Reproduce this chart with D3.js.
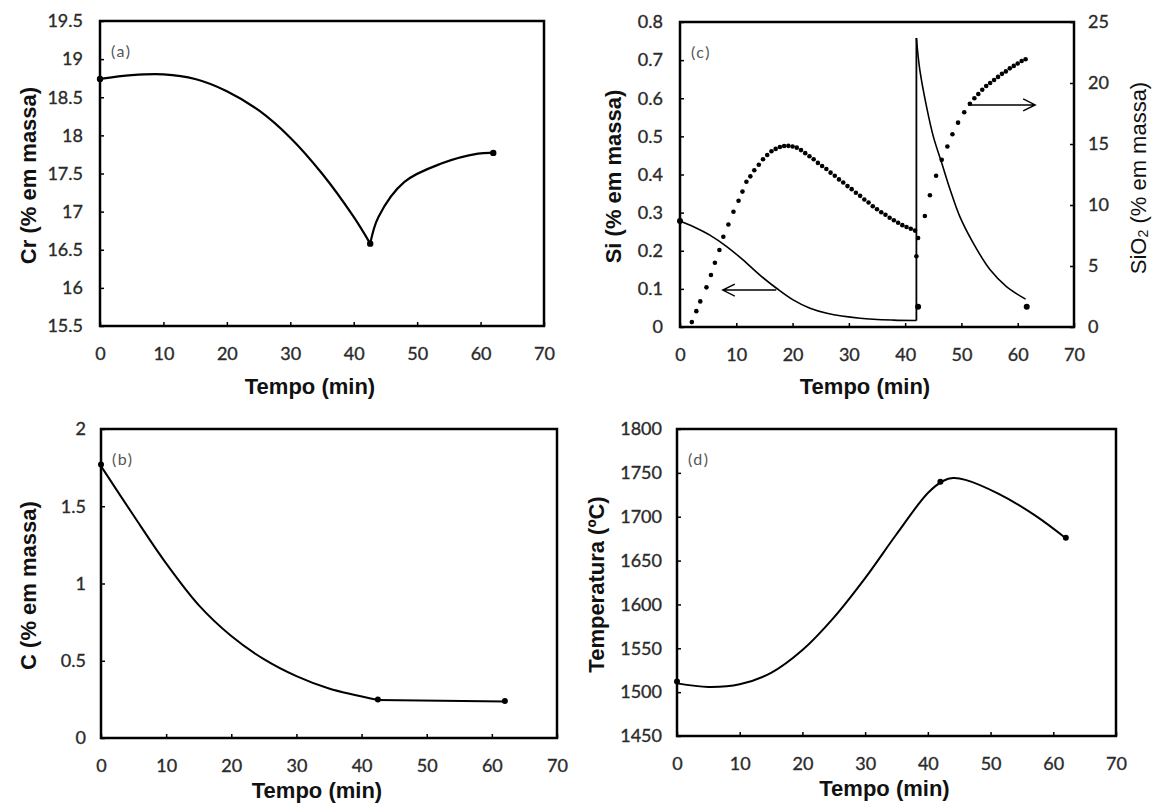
<!DOCTYPE html>
<html>
<head>
<meta charset="utf-8">
<script src="https://cdn.jsdelivr.net/npm/d3@7"></script>
<style>
    body { margin: 0; background: #fff; }
    .tick text { font-family: Lato, sans-serif; font-size: 18px; fill: #2b2b2b; stroke: #2b2b2b; stroke-width: 0.35; }
    .tick line { stroke: #000; stroke-width: 1.5; }
    .title { font-family: "Liberation Sans", Arial, sans-serif; font-weight: bold; font-size: 22px; fill: #111; }
    .tag { font-family: Lato, sans-serif; font-size: 16px; fill: #555; letter-spacing: 1.5px; }
</style>
</head>
<body>
<svg id="chart" width="1152" height="808"></svg>
<script>
// Shared x ticks (Tempo, min)
const xTicks = [0, 10, 20, 30, 40, 50, 60, 70];

// (a) Cr, % em massa
const crCurveT1 = [0, 5, 10, 15, 20, 25, 30, 35, 40, 42.6];
const crCurveV1 = [18.74, 18.79, 18.8, 18.74, 18.58, 18.33, 17.97, 17.5, 16.93, 16.58];
const crCurveT2 = [42.6, 43.9, 48, 53.8, 59.6, 61.9];
const crCurveV2 = [16.58, 16.93, 17.39, 17.63, 17.76, 17.77];
const crPointT = [0, 42.6, 62];
const crPointV = [18.74, 16.58, 17.77];
const crTicks = [15.5, 16, 16.5, 17, 17.5, 18, 18.5, 19, 19.5];

// (b) C, % em massa
const cCurveT = [0, 5, 10, 15, 20, 25, 30, 35, 42.5];
const cCurveV = [1.76, 1.44, 1.13, 0.86, 0.66, 0.51, 0.4, 0.32, 0.246];
const cTailT = [42.5, 62];
const cTailV = [0.246, 0.237];
const cPointT = [0, 42.5, 62];
const cPointV = [1.77, 0.25, 0.24];
const cTicks = [0, 0.5, 1, 1.5, 2];

// (c) Si (left axis) and SiO2 (right axis)
const siCurveT1 = [0, 2.4, 5.3, 8.3, 11.2, 14.2, 17.2, 20.1, 23.1, 26.1, 32, 37.9, 42];
const siCurveV1 = [0.278, 0.263, 0.241, 0.211, 0.176, 0.136, 0.101, 0.071, 0.049, 0.036, 0.023, 0.018, 0.017];
const siCurveT2 = [42, 42.6, 43.8, 45, 46.5, 48, 49.7, 52.1, 55.1, 58, 61.4];
const siCurveV2 = [0.758, 0.675, 0.578, 0.5, 0.43, 0.36, 0.29, 0.22, 0.15, 0.106, 0.073];
const siPointT = [0, 42.3, 61.6];
const siPointV = [0.278, 0.053, 0.053];
const sio2T = [2.1, 2.9, 3.6, 4.7, 5.5, 6.2, 7.0, 7.7, 8.6, 9.5, 10.4, 11.1, 11.8, 12.5, 13.2,
    14.0, 14.75, 15.5, 16.25, 17.0, 17.75, 18.5, 19.25, 20.0, 20.75, 21.5, 22.25, 23.0, 23.75,
    24.5, 25.25, 26.0, 26.75, 27.5, 28.25, 29.0, 29.75, 30.5, 31.25, 32.0, 32.75, 33.5, 34.25,
    35.0, 35.75, 36.5, 37.25, 38.0, 38.75, 39.5, 40.25, 41.0, 41.75, 42.3, 42.0,
    43.5, 44.4, 45.5, 46.5, 47.5, 48.4, 49.4, 50.5, 51.5, 52.3, 53.0, 53.7, 54.4, 55.1, 55.8,
    56.5, 57.2, 57.9, 58.6, 59.3, 60.0, 60.7, 61.4];
const sio2V = [0.4, 1.3, 2.1, 3.25, 4.26, 5.27, 6.31, 7.4, 8.4, 9.45, 10.35, 11.1, 11.9, 12.35, 12.85,
    13.3, 13.75, 14.1, 14.4, 14.6, 14.75, 14.83, 14.85, 14.8, 14.7, 14.5, 14.25, 14.0, 13.75,
    13.45, 13.2, 12.95, 12.65, 12.4, 12.1, 11.85, 11.55, 11.3, 11.0, 10.75, 10.45, 10.2, 9.9,
    9.65, 9.4, 9.2, 8.95, 8.75, 8.55, 8.35, 8.2, 8.05, 7.9, 7.3, 5.8,
    9.1, 10.8, 12.4, 13.7, 14.8, 15.8, 16.75, 17.6, 18.3, 18.75, 19.1, 19.45, 19.75, 20.0, 20.25,
    20.5, 20.75, 20.95, 21.2, 21.4, 21.6, 21.8, 21.95];
const siTicks = [0, 0.1, 0.2, 0.3, 0.4, 0.5, 0.6, 0.7, 0.8];
const sio2Ticks = [0, 5, 10, 15, 20, 25];
// arrows: [t start, t end, value]
const siArrow = [17.1, 7.6, 0.097];
const sio2Arrow = [51.2, 63.1, 18.2];

// (d) Temperatura, ºC
const tCurveT = [0, 5, 10, 15, 20, 25, 30, 35, 40, 42.5, 44, 46, 51.3, 57.2, 61.9];
const tCurveV = [1510, 1506, 1509, 1522, 1548, 1585, 1630, 1680, 1727, 1741, 1744, 1742, 1726, 1701, 1676];
const tPointT = [0, 42, 62];
const tPointV = [1512, 1740, 1676];
const tTicks = [1450, 1500, 1550, 1600, 1650, 1700, 1750, 1800];

const svg = d3.select("#chart");
const smooth = d3.curveCatmullRom.alpha(0.5);

function makePanel(p) {
    const x = d3.scaleLinear().domain([0, 70]).range([p.left, p.right]);
    const y = d3.scaleLinear().domain(p.yDomain).range([p.bottom, p.top]);
    const g = svg.append("g");

    g.append("g")
        .attr("transform", `translate(0,${p.bottom})`)
        .call(d3.axisBottom(x).tickValues(xTicks).tickSize(-4).tickPadding(21).tickFormat(d => d))
        .call(a => a.select(".domain").remove());

    g.append("g")
        .attr("transform", `translate(${p.left},0)`)
        .call(d3.axisLeft(y).tickValues(p.yTicks).tickSize(-4).tickPadding(p.yPad).tickFormat(d => d))
        .call(a => a.select(".domain").remove());

    // frame
    g.append("rect")
        .attr("x", p.left).attr("y", p.top)
        .attr("width", p.right - p.left).attr("height", p.bottom - p.top)
        .attr("fill", "none").attr("stroke", "#000").attr("stroke-width", 2.5);

    g.append("text").attr("class", "tag")
        .attr("x", p.left + 11).attr("y", p.top + 36).text(p.tag);

    g.append("text").attr("class", "title")
        .attr("x", (p.left + p.right) / 2 - 12).attr("y", p.bottom + p.xTitleDy)
        .attr("text-anchor", "middle").text("Tempo (min)");

    g.append("text").attr("class", "title")
        .attr("transform", `translate(${p.titleX},${(p.top + p.bottom) / 2 + 2}) rotate(-90)`)
        .attr("text-anchor", "middle").attr("dominant-baseline", "central")
        .text(p.yTitle);

    return { g, x, y };
}

function drawLine(g, x, y, ts, vs, curve, width) {
    g.append("path")
        .datum(d3.zip(ts, vs))
        .attr("fill", "none").attr("stroke", "#000")
        .attr("stroke-width", width).attr("stroke-linejoin", "round")
        .attr("d", d3.line().x(d => x(d[0])).y(d => y(d[1])).curve(curve));
}

function drawDots(g, x, y, ts, vs, r) {
    g.append("g").selectAll("circle")
        .data(d3.zip(ts, vs))
        .join("circle")
        .attr("cx", d => x(d[0])).attr("cy", d => y(d[1]))
        .attr("r", r).attr("fill", "#000");
}

function drawArrow(g, x, y, a) {
    const x0 = x(a[0]), x1 = x(a[1]), yy = y(a[2]);
    const dir = Math.sign(x1 - x0);
    g.append("path")
        .attr("d", `M${x0},${yy}L${x1},${yy}M${x1 - dir * 12},${yy - 6}L${x1},${yy}L${x1 - dir * 12},${yy + 6}`)
        .attr("fill", "none").attr("stroke", "#000").attr("stroke-width", 1.4);
}

// Panel (a)
const pa = makePanel({ left: 100, right: 544, top: 21, bottom: 326, yDomain: [15.5, 19.5], yTicks: crTicks,
    yPad: 17, tag: "(a)", yTitle: "Cr (% em massa)", titleX: 28, xTitleDy: 68 });
drawLine(pa.g, pa.x, pa.y, crCurveT1, crCurveV1, smooth, 2.2);
drawLine(pa.g, pa.x, pa.y, crCurveT2, crCurveV2, smooth, 2.2);
drawDots(pa.g, pa.x, pa.y, crPointT, crPointV, 3.2);

// Panel (b)
const pb = makePanel({ left: 101, right: 557, top: 429, bottom: 738, yDomain: [0, 2], yTicks: cTicks,
    yPad: 15, tag: "(b)", yTitle: "C (% em massa)", titleX: 28, xTitleDy: 60 });
drawLine(pb.g, pb.x, pb.y, cCurveT, cCurveV, smooth, 2);
drawLine(pb.g, pb.x, pb.y, cTailT, cTailV, d3.curveLinear, 2);
drawDots(pb.g, pb.x, pb.y, cPointT, cPointV, 3);

// Panel (c), left axis Si
const pc = makePanel({ left: 680, right: 1074, top: 22, bottom: 327, yDomain: [0, 0.8], yTicks: siTicks,
    yPad: 17, tag: "(c)", yTitle: "Si (% em massa)", titleX: 613, xTitleDy: 67 });
const y2 = d3.scaleLinear().domain([0, 25]).range([327, 22]);
pc.g.append("g")
    .attr("transform", "translate(1074,0)")
    .call(d3.axisRight(y2).tickValues(sio2Ticks).tickSize(-4).tickPadding(14))
    .call(a => a.select(".domain").remove());
const sio2Title = pc.g.append("text").attr("class", "title").style("font-weight", "normal")
    .attr("transform", "translate(1138,178) rotate(-90)")
    .attr("text-anchor", "middle").attr("dominant-baseline", "central");
sio2Title.append("tspan").text("SiO");
sio2Title.append("tspan").attr("font-size", 14).attr("dy", 5).text("2");
sio2Title.append("tspan").attr("dy", -5).text(" (% em massa)");

drawLine(pc.g, pc.x, pc.y, siCurveT1, siCurveV1, smooth, 1.6);
drawLine(pc.g, pc.x, pc.y, [42, 42], [siCurveV1[siCurveV1.length - 1], siCurveV2[0]], d3.curveLinear, 1.8);
drawLine(pc.g, pc.x, pc.y, siCurveT2, siCurveV2, smooth, 1.6);
drawDots(pc.g, pc.x, y2, sio2T, sio2V, 2.3);
drawDots(pc.g, pc.x, pc.y, siPointT, siPointV, 3);
drawArrow(pc.g, pc.x, pc.y, siArrow);
drawArrow(pc.g, pc.x, y2, sio2Arrow);

// Panel (d)
const pd = makePanel({ left: 677, right: 1116, top: 429, bottom: 736, yDomain: [1450, 1800], yTicks: tTicks,
    yPad: 15, tag: "(d)", yTitle: "Temperatura (ºC)", titleX: 596, xTitleDy: 60 });
drawLine(pd.g, pd.x, pd.y, tCurveT, tCurveV, smooth, 2);
drawDots(pd.g, pd.x, pd.y, tPointT, tPointV, 3);
</script>
</body>
</html>
